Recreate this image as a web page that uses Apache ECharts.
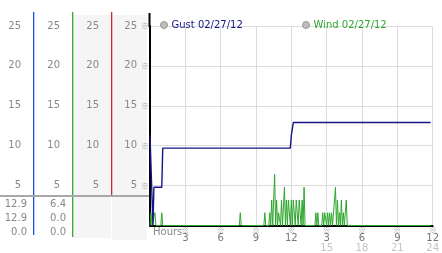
<!DOCTYPE html>
<html>
<head>
<meta charset="utf-8">
<script src="https://cdn.jsdelivr.net/npm/echarts@6/dist/echarts.min.js"></script>
<style>
html,body{margin:0;padding:0;background:#fff;}
#chart{width:442px;height:253px;}
</style>
</head>
<body>
<div id="chart"></div>
<script>
// ---- data (x = minutes since midnight, y = speed) ----
const gustName = 'Gust 02/27/12';
const windName = 'Wind 02/27/12';
const gust = [
  [0,11.3],[10,11.3],[15,0],[20,4.8],[60,4.8],[65,9.7],[715,9.7],
  [720,11.3],[730,12.9],[1430,12.9]
];
const wind = [
  [0,0],[5,1.6],[10,0],[20,0],[25,1.6],[30,0],[55,0],[60,1.6],[65,0],
  [455,0],[460,1.6],[465,0],[580,0],[585,1.6],[590,0],
  [605,0],[610,1.6],[615,0],[620,3.2],[625,0],[630,3.2],[635,6.4],[640,0],
  [645,3.2],[650,0],[655,1.6],[660,1.6],[665,0],[670,3.2],[675,0],[680,0],
  [685,4.8],[690,0],[695,3.2],[700,0],[705,3.2],[710,3.2],[715,0],[720,3.2],
  [725,0],[730,3.2],[735,1.6],[740,0],[745,3.2],[750,3.2],[755,0],[760,3.2],
  [765,1.6],[770,0],[775,3.2],[780,0],[785,4.8],[790,0],
  [840,0],[845,1.6],[850,0],[855,1.6],[860,0],[875,0],[880,1.6],[885,0],
  [890,1.6],[895,1.6],[900,0],[905,1.6],[910,0],[915,1.6],[920,0],[925,1.6],
  [930,0],[935,0],[940,3.2],[945,4.8],[950,0],[955,3.2],[960,0],[965,1.6],
  [970,0],[975,3.2],[980,0],[985,1.6],[990,0],[995,0],[1000,3.2],[1005,0],
  [1430,0]
];
const hourTop = ['', '3', '6', '9', '12', '3', '6', '9', '12'];
const hourBottom = ['', '', '', '', '', '15', '18', '21', '24'];
const gustStats = ['12.9', '12.9', '0.0'];
const windStats = ['6.4', '0.0', '0.0'];
const axisTitle = 'Hours';

// ---- styles ----
const FONT = 'DejaVu Sans, Verdana, sans-serif';
const MARKFONT = 'Noto Sans CJK SC, DejaVu Sans, sans-serif';
const GUST_COLOR = '#15158a';
const WIND_COLOR = '#2ea62e';
const LABEL = '#888';

const chart = echarts.init(document.getElementById('chart'), null, {renderer: 'canvas'});

function colAxis(offset) {
  return {
    type: 'value', min: 0, max: 25, interval: 5, position: 'left', offset: offset,
    axisLine: {show: false}, axisTick: {show: false}, splitLine: {show: false},
    axisLabel: {margin: 0, color: LABEL, fontSize: 10, fontFamily: FONT,
      formatter: v => v === 0 ? '' : String(v)}
  };
}

const graphics = [];
// column backgrounds
graphics.push({type: 'rect', shape: {x: 73, y: 15, width: 38, height: 223}, style: {fill: '#f5f5f5'}, z: -10});
graphics.push({type: 'rect', shape: {x: 112, y: 15, width: 35, height: 225}, style: {fill: '#f5f5f5'}, z: -10});
// column separators
graphics.push({type: 'rect', shape: {x: 33, y: 12, width: 1.3, height: 223}, style: {fill: '#1f4fd8'}});
graphics.push({type: 'rect', shape: {x: 72, y: 12, width: 1.3, height: 225}, style: {fill: '#33aa33'}});
graphics.push({type: 'rect', shape: {x: 111, y: 12, width: 1.3, height: 184}, style: {fill: '#d02828'}});
// horizontal separator
graphics.push({type: 'line', shape: {x1: 0, y1: 196, x2: 149, y2: 196}, style: {stroke: '#a8a8a8', lineWidth: 2}});
// y axis extension above grid
graphics.push({type: 'line', shape: {x1: 149.5, y1: 13, x2: 149.5, y2: 27}, style: {stroke: '#000', lineWidth: 2}});
// stats
const statY = [204, 218, 232];
gustStats.forEach((t, i) => graphics.push({type: 'text', x: 27, y: statY[i],
  style: {text: t, fill: LABEL, font: '10px ' + FONT, textAlign: 'right', textVerticalAlign: 'middle'}}));
windStats.forEach((t, i) => graphics.push({type: 'text', x: 66, y: statY[i],
  style: {text: t, fill: LABEL, font: '10px ' + FONT, textAlign: 'right', textVerticalAlign: 'middle'}}));
// Hours title
graphics.push({type: 'text', x: 153, y: 232, style: {text: axisTitle, fill: LABEL, font: '10px ' + FONT, textAlign: 'left', textVerticalAlign: 'middle'}});

chart.setOption({
  animation: false,
  backgroundColor: '#fff',
  grid: {left: 150, right: 4, top: 26, bottom: 27, containLabel: false},
  legend: [
    {left: 155, top: 15, itemWidth: 7, itemHeight: 7, itemGap: 5, icon: 'circle',
     itemStyle: {color: '#bdbdbd', borderColor: '#999', borderWidth: 1},
     textStyle: {fontSize: 10, fontFamily: FONT, color: GUST_COLOR, padding: [0,0,0,-1]},
     data: [{name: gustName}]},
    {left: 297, top: 15, itemWidth: 7, itemHeight: 7, itemGap: 5, icon: 'circle',
     itemStyle: {color: '#bdbdbd', borderColor: '#999', borderWidth: 1},
     textStyle: {fontSize: 10, fontFamily: FONT, color: WIND_COLOR, padding: [0,0,0,-1]},
     data: [{name: windName}]}
  ],
  xAxis: {
    type: 'value', min: 0, max: 1440, interval: 180,
    axisLine: {show: true, lineStyle: {color: '#000', width: 2}},
    axisTick: {show: false},
    splitLine: {show: true, lineStyle: {color: '#dcdcdc', width: 1}},
    axisLabel: {
      margin: 0, showMinLabel: true, showMaxLabel: true,
      formatter: function (v) {
        const i = Math.round(v / 180);
        if (!hourTop[i]) return '';
        let s = '{m|※}\n{a|' + hourTop[i] + '}';
        if (hourBottom[i]) s += '\n{b|' + hourBottom[i] + '}';
        return s;
      },
      rich: {
        m: {fontSize: 8, lineHeight: 8, color: '#999', fontFamily: MARKFONT},
        a: {fontSize: 10, lineHeight: 10, color: '#777', fontFamily: FONT},
        b: {fontSize: 10, lineHeight: 9, color: '#c4c4c4', fontFamily: FONT}
      }
    }
  },
  yAxis: [
    {
      type: 'value', min: 0, max: 25, interval: 5, position: 'left',
      axisLine: {show: true, onZero: false, lineStyle: {color: '#000', width: 2}},
      axisTick: {show: false},
      splitLine: {show: true, lineStyle: {color: '#dcdcdc', width: 1}},
      axisLabel: {margin: 1, formatter: v => v === 0 ? '' : '{m|※}',
        rich: {m: {fontSize: 8, color: '#999', fontFamily: MARKFONT}}}
    },
    colAxis(13),
    colAxis(51),
    colAxis(90),
    colAxis(129)
  ],
  series: [
    {name: windName, type: 'line', data: wind, showSymbol: false, symbol: 'none',
     lineStyle: {color: WIND_COLOR, width: 1}, itemStyle: {color: WIND_COLOR}, z: 2},
    {name: gustName, type: 'line', data: gust, showSymbol: false, symbol: 'none',
     lineStyle: {color: GUST_COLOR, width: 1.4}, itemStyle: {color: GUST_COLOR}, z: 3}
  ],
  graphic: graphics
});
</script>
</body>
</html>
